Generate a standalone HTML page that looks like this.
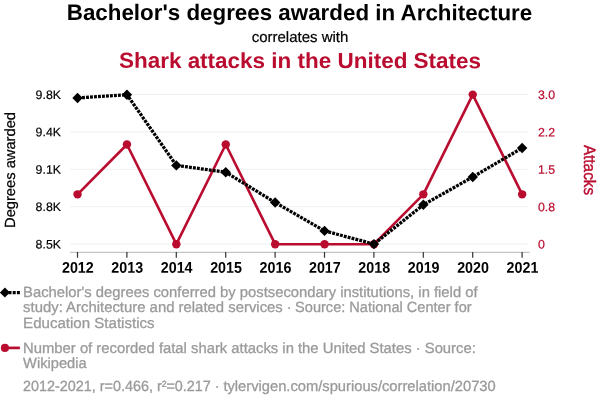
<!DOCTYPE html>
<html><head><meta charset="utf-8">
<style>
html,body{margin:0;padding:0;background:#fff;}
svg{display:block;font-family:"Liberation Sans",sans-serif;text-rendering:geometricPrecision;will-change:transform;}
</style></head><body>
<svg width="600" height="408" viewBox="0 0 600 408">
<rect width="600" height="408" fill="#fff"/>
<text x="299.5" y="20.1" transform="rotate(0.05 300 20.1)" text-anchor="middle" font-size="22.36" font-weight="bold" fill="#000">Bachelor's degrees awarded in Architecture</text>
<text x="300" y="41.8" text-anchor="middle" font-size="15" fill="#000" stroke="#000" stroke-width="0.2">correlates with</text>
<text transform="translate(300 68.0) rotate(0.05) scale(1 0.965)" text-anchor="middle" font-size="22.48" font-weight="bold" fill="#ba0c2f">Shark attacks in the United States</text>
<g stroke="#f0f0f0" stroke-width="1">
<line x1="70" x2="528" y1="94.5" y2="94.5"/>
<line x1="70" x2="528" y1="131.88" y2="131.88"/>
<line x1="70" x2="528" y1="169.25" y2="169.25"/>
<line x1="70" x2="528" y1="206.63" y2="206.63"/>
<line x1="70" x2="528" y1="244.0" y2="244.0"/>
</g>
<line x1="70" x2="529.5" y1="252.3" y2="252.3" stroke="#b4b4b4" stroke-width="1"/>
<path d="M77.50 252v5.8M126.90 252v5.8M176.30 252v5.8M225.70 252v5.8M275.10 252v5.8M324.50 252v5.8M373.90 252v5.8M423.30 252v5.8M472.70 252v5.8M522.10 252v5.8" stroke="#333" stroke-width="1.2" fill="none"/>
<g font-size="12.35" fill="#000" stroke="#000" stroke-width="0.2" text-anchor="end">
<text transform="translate(61 98.90) rotate(0.05)">9.8K</text>
<text transform="translate(61 136.28) rotate(0.05)">9.4K</text>
<text transform="translate(61 173.65) rotate(0.05)">9.1K</text>
<text transform="translate(61 211.03) rotate(0.05)">8.8K</text>
<text transform="translate(61 248.40) rotate(0.05)">8.5K</text>
</g>
<g font-size="12.35" fill="#ba0c2f" stroke="#ba0c2f" stroke-width="0.2" text-anchor="start">
<text transform="translate(538 99.00) rotate(0.05)">3.0</text>
<text transform="translate(538 136.38) rotate(0.05)">2.2</text>
<text transform="translate(538 173.75) rotate(0.05)">1.5</text>
<text transform="translate(538 211.13) rotate(0.05)">0.8</text>
<text transform="translate(538 248.50) rotate(0.05)">0</text>
</g>
<g font-size="16" font-weight="bold" fill="#000" text-anchor="middle">
<text transform="translate(77.85,272.8) scale(0.894,0.97) rotate(0.03)">2012</text>
<text transform="translate(127.25,272.8) scale(0.894,0.97) rotate(0.03)">2013</text>
<text transform="translate(176.65,272.8) scale(0.894,0.97) rotate(0.03)">2014</text>
<text transform="translate(226.05,272.8) scale(0.894,0.97) rotate(0.03)">2015</text>
<text transform="translate(275.45,272.8) scale(0.894,0.97) rotate(0.03)">2016</text>
<text transform="translate(324.85,272.8) scale(0.894,0.97) rotate(0.03)">2017</text>
<text transform="translate(374.25,272.8) scale(0.894,0.97) rotate(0.03)">2018</text>
<text transform="translate(423.65,272.8) scale(0.894,0.97) rotate(0.03)">2019</text>
<text transform="translate(473.05,272.8) scale(0.894,0.97) rotate(0.03)">2020</text>
<text transform="translate(522.45,272.8) scale(0.894,0.97) rotate(0.03)">2021</text>
</g>
<text transform="translate(14.8,170) rotate(-90)" text-anchor="middle" font-size="14.7" fill="#000" stroke="#000" stroke-width="0.25">Degrees awarded</text>
<text transform="translate(583.8,170) rotate(90)" text-anchor="middle" font-size="16.6" textLength="50.2" lengthAdjust="spacingAndGlyphs" fill="#ba0c2f" stroke="#ba0c2f" stroke-width="0.4">Attacks</text>
<polyline fill="none" stroke="#ba0c2f" stroke-width="2.6" stroke-linejoin="round" points="77.55,194.33 126.95,144.47 176.35,244.20 225.75,144.47 275.15,244.20 324.55,244.20 373.95,244.20 423.35,194.33 472.75,94.60 522.15,194.33"/>
<g fill="#ba0c2f"><circle cx="77.55" cy="194.33" r="4.2"/><circle cx="126.95" cy="144.47" r="4.2"/><circle cx="176.35" cy="244.20" r="4.2"/><circle cx="225.75" cy="144.47" r="4.2"/><circle cx="275.15" cy="244.20" r="4.2"/><circle cx="324.55" cy="244.20" r="4.2"/><circle cx="373.95" cy="244.20" r="4.2"/><circle cx="423.35" cy="194.33" r="4.2"/><circle cx="472.75" cy="94.60" r="4.2"/><circle cx="522.15" cy="194.33" r="4.2"/></g>
<polyline fill="none" stroke="#000" stroke-width="3.3" stroke-dasharray="2.9,1.1" stroke-dashoffset="3.5" points="77.55,98.00 126.95,94.70 176.35,165.40 225.75,172.20 275.15,202.50 324.55,230.90 373.95,244.10 423.35,204.80 472.75,177.00 522.15,148.00"/>
<g fill="#000"><path d="M77.55 92.80L82.75 98.00L77.55 103.20L72.35 98.00Z"/><path d="M126.95 89.50L132.15 94.70L126.95 99.90L121.75 94.70Z"/><path d="M176.35 160.20L181.55 165.40L176.35 170.60L171.15 165.40Z"/><path d="M225.75 167.00L230.95 172.20L225.75 177.40L220.55 172.20Z"/><path d="M275.15 197.30L280.35 202.50L275.15 207.70L269.95 202.50Z"/><path d="M324.55 225.70L329.75 230.90L324.55 236.10L319.35 230.90Z"/><path d="M373.95 238.90L379.15 244.10L373.95 249.30L368.75 244.10Z"/><path d="M423.35 199.60L428.55 204.80L423.35 210.00L418.15 204.80Z"/><path d="M472.75 171.80L477.95 177.00L472.75 182.20L467.55 177.00Z"/><path d="M522.15 142.80L527.35 148.00L522.15 153.20L516.95 148.00Z"/></g>
<line x1="4.3" x2="19.9" y1="292.55" y2="292.55" stroke="#000" stroke-width="3.2" stroke-dasharray="3,1.2"/>
<g fill="#000"><path d="M4.90 287.60L9.90 292.60L4.90 297.60L-0.10 292.60Z"/></g>
<line x1="5" x2="19.9" y1="347.9" y2="347.9" stroke="#ba0c2f" stroke-width="2.7"/>
<circle cx="4.9" cy="347.9" r="4.05" fill="#ba0c2f"/>
<g font-size="14.78" fill="#9a9a9a" stroke="#9a9a9a" stroke-width="0.3">
<text x="23.1" y="296.5" textLength="454.5" lengthAdjust="spacingAndGlyphs">Bachelor's degrees conferred by postsecondary institutions, in field of</text>
<text x="23.1" y="312.35" textLength="259.7" lengthAdjust="spacingAndGlyphs">study: Architecture and related services</text>
<text x="286.8" y="312.35">·</text>
<text x="295.1" y="312.35" textLength="176.5" lengthAdjust="spacingAndGlyphs">Source: National Center for</text>
<text x="23.1" y="328.0" textLength="131.5" lengthAdjust="spacingAndGlyphs">Education Statistics</text>
<text x="23.1" y="352.5" textLength="452.7" lengthAdjust="spacingAndGlyphs">Number of recorded fatal shark attacks in the United States · Source:</text>
<text x="23.1" y="368.2" textLength="63.5" lengthAdjust="spacingAndGlyphs">Wikipedia</text>
<text x="23.1" y="391.3" textLength="187.7" lengthAdjust="spacingAndGlyphs">2012-2021, r=0.466, r²=0.217</text>
<text x="214.7" y="391.3">·</text>
<text x="223.4" y="391.3" textLength="272.3" lengthAdjust="spacingAndGlyphs">tylervigen.com/spurious/correlation/20730</text>
</g>
</svg>
</body></html>
